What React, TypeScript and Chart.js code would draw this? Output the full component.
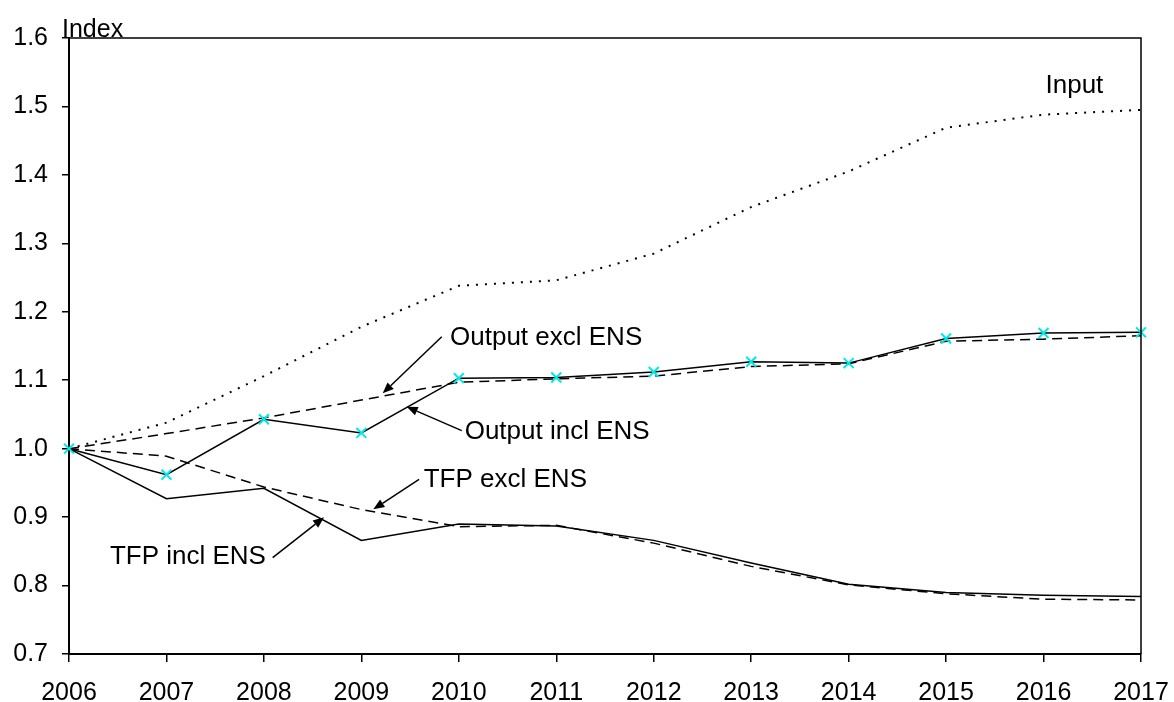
import React, { useEffect, useRef } from 'react';
import { Chart, registerables } from 'chart.js';

Chart.register(...registerables);

// ---------- data ----------
const years = ['2006', '2007', '2008', '2009', '2010', '2011', '2012', '2013', '2014', '2015', '2016', '2017'];
const inputIndex = [1.0, 1.038, 1.106, 1.178, 1.238, 1.246, 1.285, 1.353, 1.405, 1.469, 1.488, 1.495];
const outputInclEns = [1.0, 0.962, 1.043, 1.023, 1.103, 1.104, 1.112, 1.127, 1.125, 1.161, 1.169, 1.17];
const outputExclEns = [1.0, 1.022, 1.045, 1.071, 1.097, 1.102, 1.106, 1.12, 1.124, 1.157, 1.16, 1.165];
const tfpInclEns = [1.0, 0.927, 0.942, 0.866, 0.89, 0.887, 0.866, 0.833, 0.802, 0.79, 0.786, 0.784];
const tfpExclEns = [1.0, 0.989, 0.944, 0.911, 0.886, 0.888, 0.862, 0.828, 0.801, 0.788, 0.78, 0.779];

const yMin = 0.7;
const yMax = 1.6;
const yStep = 0.1;
const yAxisTitle = 'Index';

// annotation labels (position in data coordinates: x = year index, y = value at text baseline)
const labelTexts = ['Input', 'Output excl ENS', 'Output incl ENS', 'TFP excl ENS', 'TFP incl ENS'];
const labelX = [10.02, 3.91, 4.06, 3.64, 0.42];
const labelY = [1.52, 1.1515, 1.0137, 0.9445, 0.831];

// arrows (from -> tip), data coordinates
const arrowFromX = [3.825, 4.03, 3.592, 2.09];
const arrowFromY = [1.1636, 1.0263, 0.9553, 0.8407];
const arrowToX = [3.219, 3.465, 3.123, 2.617];
const arrowToY = [1.0809, 1.0613, 0.9114, 0.8997];

const FONT = "'Liberation Sans', Arial, Helvetica, sans-serif";

const annotationPlugin = {
  id: 'annotations',
  afterDatasetsDraw(chart: any) {
    const { ctx, chartArea, scales } = chart;
    const xs = scales.x;
    const ys = scales.y;
    ctx.save();
    // frame (top and right)
    ctx.strokeStyle = '#000';
    ctx.lineWidth = 1.5;
    ctx.beginPath();
    ctx.moveTo(chartArea.left, chartArea.top);
    ctx.lineTo(chartArea.right, chartArea.top);
    ctx.lineTo(chartArea.right, chartArea.bottom);
    ctx.stroke();

    // axis title
    ctx.fillStyle = '#000';
    ctx.font = `25px ${FONT}`;
    ctx.textAlign = 'left';
    ctx.textBaseline = 'alphabetic';
    ctx.fillText(yAxisTitle, chartArea.left - 7, chartArea.top - 1);

    // labels
    ctx.font = `26px ${FONT}`;
    labelTexts.forEach((t, i) => {
      ctx.fillText(t, xs.getPixelForValue(labelX[i]), ys.getPixelForValue(labelY[i]));
    });

    // arrows
    ctx.lineWidth = 1.5;
    arrowFromX.forEach((_, i) => {
      const x1 = xs.getPixelForValue(arrowFromX[i]);
      const y1 = ys.getPixelForValue(arrowFromY[i]);
      const x2 = xs.getPixelForValue(arrowToX[i]);
      const y2 = ys.getPixelForValue(arrowToY[i]);
      const ang = Math.atan2(y2 - y1, x2 - x1);
      const len = 11;
      const hw = 4.5;
      const bx = x2 - len * Math.cos(ang);
      const by = y2 - len * Math.sin(ang);
      ctx.beginPath();
      ctx.moveTo(x1, y1);
      ctx.lineTo(bx, by);
      ctx.stroke();
      ctx.beginPath();
      ctx.moveTo(x2, y2);
      ctx.lineTo(bx + hw * Math.sin(ang), by - hw * Math.cos(ang));
      ctx.lineTo(bx - hw * Math.sin(ang), by + hw * Math.cos(ang));
      ctx.closePath();
      ctx.fill();
    });
    ctx.restore();
  },
};

export default function App() {
  const ref = useRef<HTMLCanvasElement | null>(null);

  useEffect(() => {
    if (!ref.current) return;
    const chart = new Chart(ref.current, {
      type: 'line',
      data: {
        labels: years,
        datasets: [
          {
            label: 'Output incl ENS',
            data: outputInclEns,
            borderColor: '#000',
            borderWidth: 1.5,
            pointStyle: 'crossRot',
            pointRadius: 7,
            pointBorderColor: '#00E8E8',
            pointBorderWidth: 2,
            pointBackgroundColor: '#00E8E8',
            tension: 0,
          },
          {
            label: 'TFP incl ENS',
            data: tfpInclEns,
            borderColor: '#000',
            borderWidth: 1.5,
            pointRadius: 0,
            tension: 0,
          },
          {
            label: 'Output excl ENS',
            data: outputExclEns,
            borderColor: '#000',
            borderWidth: 1.5,
            borderDash: [10, 6],
            pointRadius: 0,
            tension: 0,
          },
          {
            label: 'TFP excl ENS',
            data: tfpExclEns,
            borderColor: '#000',
            borderWidth: 1.5,
            borderDash: [10, 6],
            pointRadius: 0,
            tension: 0,
          },
          {
            label: 'Input',
            data: inputIndex,
            borderColor: '#000',
            borderWidth: 2,
            borderDash: [2, 7],
            pointRadius: 0,
            tension: 0,
          },
        ],
      },
      options: {
        animation: false,
        responsive: false,
        devicePixelRatio: 1,
        layout: { padding: { left: 0, top: 38, right: 33, bottom: 0 } },
        plugins: {
          legend: { display: false },
          tooltip: { enabled: false },
        },
        scales: {
          x: {
            type: 'category',
            offset: false,
            afterFit: (s: any) => {
              s.height = 48;
              s.paddingLeft = 0;
              s.paddingRight = 0;
            },
            grid: {
              drawOnChartArea: false,
              drawTicks: true,
              tickLength: 8,
              color: '#000',
              lineWidth: 1.5,
            },
            border: { display: true, color: '#000', width: 2 },
            ticks: {
              color: '#000',
              font: { family: FONT, size: 25 },
              padding: 16,
              maxRotation: 0,
              autoSkip: false,
            },
          },
          y: {
            type: 'linear',
            min: yMin,
            max: yMax,
            afterFit: (s: any) => {
              s.width = 69;
              s.paddingTop = 0;
              s.paddingBottom = 0;
            },
            grid: {
              drawOnChartArea: false,
              drawTicks: true,
              tickLength: 7,
              color: '#000',
              lineWidth: 1.5,
            },
            border: { display: true, color: '#000', width: 2 },
            ticks: {
              stepSize: yStep,
              color: '#000',
              font: { family: FONT, size: 25 },
              padding: 14,
              callback: (v: any) => Number(v).toFixed(1),
            },
          },
        },
      },
      plugins: [annotationPlugin],
    });
    return () => chart.destroy();
  }, []);

  return (
    <div style={{ position: 'fixed', left: 0, top: 0, width: 1174, height: 702, background: '#fff' }}>
      <canvas ref={ref} width={1174} height={702} style={{ width: 1174, height: 702, display: 'block' }} />
    </div>
  );
}
